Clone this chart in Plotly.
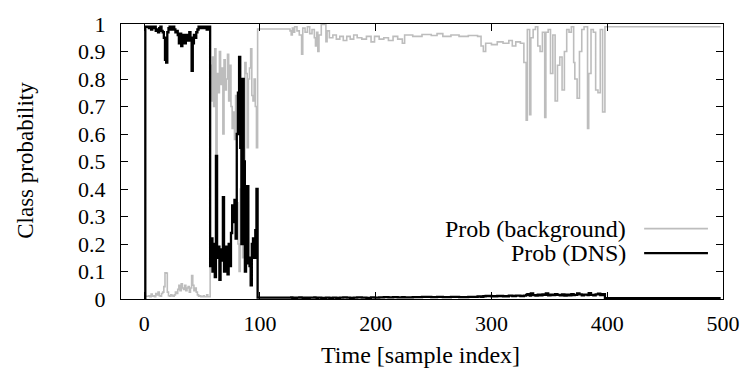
import plotly.graph_objects as go

# ---------------- data (sample index, class probabilities) ----------------
# segment 1: DNS dominant (samples 0..56)
x_seg1 = list(range(0, 57))
dns_seg1 = [0.0, 0.99,
            0.99, 0.99, 0.985, 0.99, 0.98, 0.99, 0.985, 0.99, 0.975, 0.98,
            0.97, 0.985, 0.99, 0.975, 0.97, 0.95, 0.87, 0.86, 0.97, 0.985,
            0.99, 0.98, 0.985, 0.99, 0.98, 0.97, 0.975, 0.96, 0.93, 0.965,
            0.92, 0.95, 0.96, 0.93, 0.96, 0.95, 0.94, 0.97, 0.95, 0.83,
            0.93, 0.96, 0.95, 0.97, 0.98, 0.99, 0.985, 0.99, 0.99, 0.985,
            0.99, 0.99, 0.98, 0.99, 0.99]
bg_seg1 = [0.02, 0.01,
           0.01, 0.01, 0.012, 0.008, 0.018, 0.01, 0.012, 0.008, 0.02, 0.015,
           0.025, 0.012, 0.01, 0.02, 0.025, 0.045, 0.095, 0.094, 0.025, 0.012,
           0.01, 0.015, 0.012, 0.01, 0.015, 0.025, 0.02, 0.035, 0.05, 0.03,
           0.055, 0.04, 0.035, 0.05, 0.03, 0.04, 0.045, 0.025, 0.04, 0.085,
           0.05, 0.03, 0.04, 0.025, 0.015, 0.01, 0.012, 0.008, 0.008, 0.012,
           0.008, 0.008, 0.015, 0.008, 0.008]

# segment 2: mixed (samples 57..97)
x_seg2 = list(range(57, 98))
dns_seg2 = [0.12, 0.22, 0.10, 0.20, 0.08, 0.52, 0.15, 0.19, 0.07, 0.18,
            0.14, 0.37, 0.10, 0.19, 0.15, 0.09, 0.20, 0.12, 0.24, 0.34,
            0.28, 0.36, 0.22, 0.60, 0.75, 0.88, 0.55, 0.20, 0.80, 0.50,
            0.10, 0.13, 0.41, 0.15, 0.12, 0.05, 0.20, 0.22, 0.15, 0.25,
            0.40]
bg_seg2 = [0.85, 0.72, 0.88, 0.70, 0.91, 0.45, 0.82, 0.75, 0.90, 0.78,
           0.84, 0.60, 0.87, 0.76, 0.80, 0.89, 0.72, 0.85, 0.70, 0.62,
           0.68, 0.58, 0.74, 0.35, 0.20, 0.10, 0.40, 0.75, 0.15, 0.45,
           0.86, 0.82, 0.55, 0.80, 0.84, 0.91, 0.74, 0.72, 0.80, 0.70,
           0.55]

# segment 3: background dominant (change points, samples 98..498)
x_seg3 = [98, 126, 127, 128, 129, 130, 132, 134, 136, 137,
          139, 141, 143, 145, 147, 148, 149, 150, 151, 153,
          157, 158, 160, 163, 166, 169, 172, 175, 178, 181,
          184, 188, 192, 196, 199, 203, 207, 211, 215, 219,
          223, 225, 232, 240, 248, 253, 258, 265, 272, 280,
          288, 291, 293, 295, 300, 305, 310, 315, 318, 321,
          325, 328, 330, 331, 333, 334, 336, 338, 340, 342,
          344, 346, 347, 349, 351, 353, 355, 357, 359, 361,
          363, 365, 367, 369, 371, 372, 374, 376, 378, 380,
          383, 384, 386, 388, 390, 392, 394, 396, 398, 498]
bg_seg3 = [0.982, 0.975, 0.96, 0.985, 0.97, 0.99, 0.975, 0.96, 0.89, 0.985,
           0.97, 0.99, 0.965, 0.98, 0.95, 0.92, 0.97, 0.90, 0.96, 0.998,
           0.936, 0.975, 0.95, 0.96, 0.945, 0.955, 0.94, 0.955, 0.945, 0.96,
           0.95, 0.945, 0.955, 0.935, 0.955, 0.945, 0.95, 0.94, 0.955, 0.945,
           0.93, 0.96, 0.955, 0.962, 0.958, 0.965, 0.955, 0.96, 0.955, 0.958,
           0.955, 0.92, 0.90, 0.93, 0.925, 0.935, 0.93, 0.94, 0.92, 0.935,
           0.93, 0.86, 0.65, 0.98, 0.67, 0.95, 0.98, 0.99, 0.92, 0.90,
           0.97, 0.66, 0.97, 0.98, 0.82, 0.96, 0.72, 0.85, 0.88, 0.76,
           0.90, 0.98, 0.97, 0.99, 0.86, 0.80, 0.73, 0.90, 0.98, 0.99,
           0.62, 0.82, 0.98, 0.97, 0.76, 0.75, 0.98, 0.68, 0.99, 0.99]
dns_seg3 = [0.005, 0.005, 0.006, 0.004, 0.005, 0.004, 0.005, 0.006, 0.005, 0.004,
            0.005, 0.004, 0.005, 0.005, 0.006, 0.005, 0.004, 0.005, 0.005, 0.004,
            0.005, 0.005, 0.004, 0.005, 0.004, 0.005, 0.006, 0.005, 0.004, 0.005,
            0.006, 0.005, 0.004, 0.006, 0.005, 0.006, 0.007, 0.006, 0.007, 0.006,
            0.007, 0.006, 0.007, 0.008, 0.007, 0.008, 0.007, 0.008, 0.007, 0.008,
            0.009, 0.008, 0.010, 0.011, 0.010, 0.011, 0.010, 0.012, 0.011, 0.012,
            0.011, 0.012, 0.015, 0.018, 0.012, 0.020, 0.014, 0.012, 0.016, 0.013,
            0.017, 0.015, 0.020, 0.013, 0.016, 0.014, 0.018, 0.015, 0.013, 0.017,
            0.012, 0.016, 0.013, 0.018, 0.014, 0.015, 0.020, 0.017, 0.013, 0.016,
            0.014, 0.021, 0.015, 0.013, 0.017, 0.019, 0.014, 0.018, 0.003, 0.003]

x_all = x_seg1 + x_seg2 + x_seg3
bg_all = bg_seg1 + bg_seg2 + bg_seg3
dns_all = dns_seg1 + dns_seg2 + dns_seg3

series_names = ["Prob (background)", "Prob (DNS)"]
x_ticks = [0, 100, 200, 300, 400, 500]

GRAY = "#bdbdbd"


def serif(size=22):
    return dict(family="Liberation Serif", size=size, color="black")


fig = go.Figure()
fig.add_trace(go.Scatter(x=x_all, y=bg_all, mode="lines", line_shape="hv",
                         line=dict(color=GRAY, width=1.6), name=series_names[0],
                         showlegend=False))
fig.add_trace(go.Scatter(x=x_all, y=dns_all, mode="lines", line_shape="hv",
                         line=dict(color="black", width=2.3), name=series_names[1],
                         showlegend=False))

fig.update_xaxes(range=[-20, 500], tickvals=x_ticks, ticklabelstandoff=4,
                 showline=True, linecolor="black", linewidth=1.3, mirror="ticks",
                 ticks="inside", ticklen=7, tickwidth=1.2, tickcolor="black",
                 showgrid=False, zeroline=False, tickfont=serif(22))
fig.update_yaxes(range=[0, 1], dtick=0.1, tick0=0, ticklabelstandoff=10,
                 showline=True, linecolor="black", linewidth=1.3, mirror="ticks",
                 ticks="inside", ticklen=7, tickwidth=1.2, tickcolor="black",
                 showgrid=False, zeroline=False, tickfont=serif(22))

# gnuplot-style key: text on the left, line sample on the right
key_rows = [(0.256, GRAY, 1.6), (0.167, "black", 2.3)]
for name, (yp, col, w) in zip(series_names, key_rows):
    fig.add_annotation(x=0.843, y=yp, xref="paper", yref="paper", text=name,
                       showarrow=False, xanchor="right", yanchor="middle",
                       font=serif(24))
    fig.add_shape(type="line", xref="paper", yref="paper", x0=0.869, x1=0.975,
                  y0=yp, y1=yp, line=dict(color=col, width=w))

fig.add_annotation(x=0.497, y=-0.205, xref="paper", yref="paper",
                   text="Time [sample index]", showarrow=False,
                   xanchor="center", yanchor="middle", font=serif(24))
fig.add_annotation(x=-0.16, y=0.505, xref="paper", yref="paper",
                   text="Class probability", showarrow=False, textangle=-90,
                   xanchor="center", yanchor="middle", font=serif(23))

fig.update_layout(width=752, height=374,
                  margin=dict(l=121, r=22, t=17, b=75, pad=0),
                  font=serif(),
                  plot_bgcolor="white", paper_bgcolor="white")

fig.write_html("out.html")
